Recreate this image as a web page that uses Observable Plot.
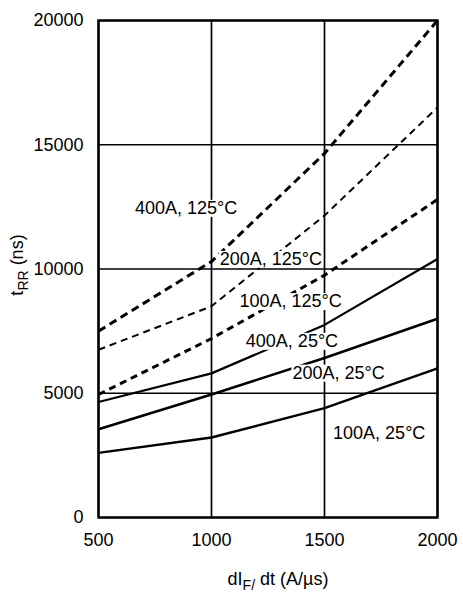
<!DOCTYPE html>
<html>
<head>
<meta charset="utf-8">
<script src="https://cdn.jsdelivr.net/npm/d3@7"></script>
<script src="https://cdn.jsdelivr.net/npm/@observablehq/plot@0.6"></script>
<style>
  html, body { margin: 0; padding: 0; background: #fff; }
  #chart { width: 463px; height: 596px; }
</style>
</head>
<body>
<div id="chart"></div>
<script>
// ---- data ----
const dIdt = [500, 1000, 1500, 2000];
const trr400A125C = [7500, 10300, 14650, 20000];
const trr200A125C = [6750, 8500, 12150, 16500];
const trr100A125C = [4950, 7200, 9750, 12800];
const trr400A25C = [4650, 5800, 7750, 10400];
const trr200A25C = [3550, 4950, 6420, 8000];
const trr100A25C = [2600, 3220, 4400, 6000];

const seriesNames = ["400A, 125°C", "200A, 125°C", "100A, 125°C", "400A, 25°C", "200A, 25°C", "100A, 25°C"];
const seriesValues = [trr400A125C, trr200A125C, trr100A125C, trr400A25C, trr200A25C, trr100A25C];

const xTicks = [500, 1000, 1500, 2000];
const yTicks = [0, 5000, 10000, 15000, 20000];

// label anchor points (data coordinates)
const labelText = ["400A, 125°C", "200A, 125°C", "100A, 125°C", "400A, 25°C", "200A, 25°C", "100A, 25°C"];
const labelX = [888, 1263, 1350, 1356, 1562, 1742];
const labelY = [12450, 10400, 8700, 7100, 5820, 3400];

// ---- styles (separate from data) ----
const styles = {
  "400A, 125°C": {strokeWidth: 3, dash: "8,5"},
  "200A, 125°C": {strokeWidth: 2, dash: "7,5"},
  "100A, 125°C": {strokeWidth: 3, dash: "7,5"},
  "400A, 25°C": {strokeWidth: 2.2, dash: null},
  "200A, 25°C": {strokeWidth: 2.6, dash: null},
  "100A, 25°C": {strokeWidth: 2.4, dash: null}
};

const lineMarks = seriesNames.map((name, i) => {
  const rows = dIdt.map((x, j) => ({x, y: seriesValues[i][j]}));
  const st = styles[name];
  return Plot.line(rows, {
    x: "x", y: "y", stroke: "#000",
    strokeWidth: st.strokeWidth,
    strokeDasharray: st.dash || undefined,
    strokeLinecap: "butt", strokeLinejoin: "round"
  });
});

const labels = labelText.map((t, i) => ({t, x: labelX[i], y: labelY[i]}));

const FONT = "'Liberation Sans', Arial, Helvetica, sans-serif";

const plot = Plot.plot({
  width: 463,
  height: 596,
  marginLeft: 98,
  marginRight: 26,
  marginTop: 20,
  marginBottom: 79,
  style: {fontFamily: FONT, fontSize: "18px", color: "#000", background: "#fff", overflow: "visible"},
  x: {domain: [500, 2000]},
  y: {domain: [0, 20000]},
  marks: [
    Plot.gridX(xTicks, {stroke: "#000", strokeOpacity: 1, strokeWidth: 1.7}),
    Plot.gridY(yTicks, {stroke: "#000", strokeOpacity: 1, strokeWidth: 1.7}),
    ...lineMarks,
    Plot.frame({stroke: "#000", strokeWidth: 2.4}),
    Plot.axisX(xTicks, {tickSize: 0, tickPadding: 16, fontSize: 18, label: null, tickFormat: d => String(d)}),
    Plot.axisY(yTicks, {tickSize: 0, tickPadding: 15, fontSize: 18, label: null, tickFormat: d => String(d)}),
    Plot.text(labels, {x: "x", y: "y", text: "t", fontSize: 18, fill: "#000", textAnchor: "middle", lineAnchor: "middle", className: "curve-label"})
  ]
});

document.getElementById("chart").appendChild(plot);

// white boxes behind curve labels (as in the reference)
const svg = d3.select(plot);
svg.selectAll("g.curve-label text").each(function () {
  const bb = this.getBBox();
  const tr = this.getAttribute("transform");
  const r = document.createElementNS("http://www.w3.org/2000/svg", "rect");
  r.setAttribute("x", bb.x - 1);
  r.setAttribute("y", bb.y + 2);
  r.setAttribute("width", bb.width + 2);
  r.setAttribute("height", bb.height - 3);
  r.setAttribute("fill", "#fff");
  if (tr) r.setAttribute("transform", tr);
  this.parentNode.insertBefore(r, this);
});

// axis titles with subscripts
const xt = svg.append("text")
  .attr("x", 278).attr("y", 585)
  .attr("text-anchor", "middle")
  .attr("font-family", FONT).attr("font-size", 18).attr("fill", "#000");
xt.append("tspan").text("dI");
xt.append("tspan").attr("font-size", 14).attr("dy", 5).text("F/");
xt.append("tspan").attr("dy", -5).text(" dt (A/µs)");

const yt = svg.append("text")
  .attr("transform", "translate(23,265) rotate(-90)")
  .attr("text-anchor", "middle")
  .attr("font-family", FONT).attr("font-size", 18).attr("fill", "#000");
yt.append("tspan").text("t");
yt.append("tspan").attr("font-size", 14).attr("dy", 5).text("RR");
yt.append("tspan").attr("dy", -5).text(" (ns)");
</script>
</body>
</html>
